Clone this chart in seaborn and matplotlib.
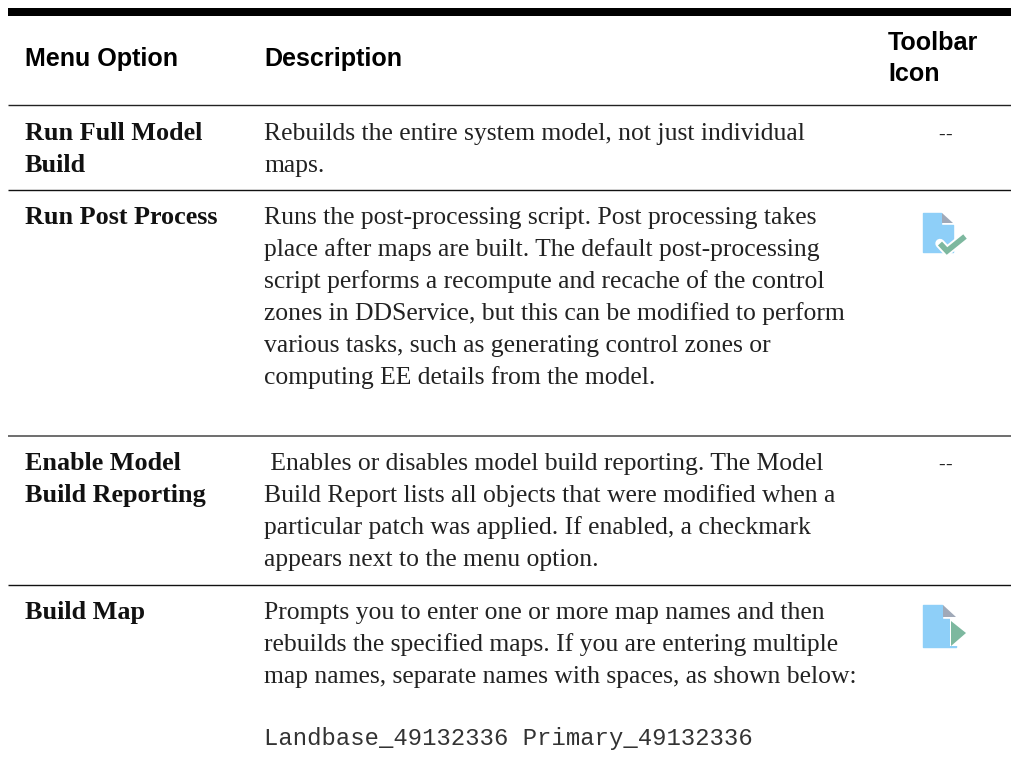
import matplotlib
matplotlib.use("Agg")
import matplotlib.pyplot as plt
from matplotlib.patches import Polygon
import seaborn as sns

sns.set_theme(style="white")

headers = ["Menu Option", "Description"]
toolbar_header = ["Toolbar", "Icon"]
options = [["Run Full Model", "Build"], ["Run Post Process"], ["Enable Model", "Build Reporting"], ["Build Map"]]
descriptions = [
    ["Rebuilds the entire system model, not just individual", "maps."],
    ["Runs the post-processing script. Post processing takes",
     "place after maps are built. The default post-processing",
     "script performs a recompute and recache of the control",
     "zones in DDService, but this can be modified to perform",
     "various tasks, such as generating control zones or",
     "computing EE details from the model."],
    [" Enables or disables model build reporting. The Model",
     "Build Report lists all objects that were modified when a",
     "particular patch was applied. If enabled, a checkmark",
     "appears next to the menu option."],
    ["Prompts you to enter one or more map names and then",
     "rebuilds the specified maps. If you are entering multiple",
     "map names, separate names with spaces, as shown below:"],
]
row_baselines = [140, 224, 470, 619]
rules = [105, 190, 436, 585]
rule_styles = [("#222222", 1.0), ("#111111", 1.0), ("#555555", 1.2), ("#111111", 1.0)]
icons = ["--", "check", "--", "play"]
code_line = "Landbase_49132336 Primary_49132336"

W, H = 1011, 760
fig = plt.figure(figsize=(W / 100, H / 100), dpi=100, facecolor="white")
ax = fig.add_axes([0, 0, 1, 1])
ax.set_xlim(0, W)
ax.set_ylim(H, 0)
ax.axis("off")

LH = 32
SANS = "Liberation Sans"
SERIF = "Liberation Serif"
MONO = "Liberation Mono"
BODY = 18.45
BOLD = 18.8
HEAD = 18.1

ax.fill_between([8, W], 8, 16, color="black", lw=0)
for y, (c, w) in zip(rules, rule_styles):
    ax.plot([8, W], [y, y], color=c, lw=w, solid_capstyle="butt")

ax.text(25, 66, headers[0], family=SANS, weight="bold", fontsize=HEAD, color="black", va="baseline")
ax.text(264, 66, headers[1], family=SANS, weight="bold", fontsize=HEAD, color="black", va="baseline")
ax.text(888, 50, toolbar_header[0], family=SANS, weight="bold", fontsize=HEAD, color="black", va="baseline")
ax.text(888, 81, toolbar_header[1], family=SANS, weight="bold", fontsize=HEAD, color="black", va="baseline")


def doc_icon(ax, x, y, w, h, fold):
    ax.add_patch(Polygon([(x, y), (x + w - fold - 1, y), (x + w - fold - 1, y + fold + 1),
                          (x + w, y + fold + 1), (x + w, y + h), (x, y + h)],
                         closed=True, fc="#8ECFF8", ec="#8ECFF8", lw=1, joinstyle="round"))
    ax.add_patch(Polygon([(x + w - fold, y), (x + w, y + fold - 1), (x + w - fold, y + fold - 1)],
                         closed=True, fc="#A0A9B8", ec="none"))


for base, opt, desc, icon in zip(row_baselines, options, descriptions, icons):
    for i, line in enumerate(opt):
        ax.text(25, base + i * LH, line, family=SERIF, weight="bold", fontsize=BOLD, color="#111111", va="baseline")
    for i, line in enumerate(desc):
        ax.text(264, base + i * LH, line, family=SERIF, fontsize=BODY, color="#222222", va="baseline")
    if icon == "--":
        ax.text(941.5, base, "-", family=SERIF, fontsize=14, color="#222222", va="baseline", ha="center")
        ax.text(949, base, "-", family=SERIF, fontsize=14, color="#222222", va="baseline", ha="center")
    elif icon == "check":
        doc_icon(ax, 923, 213, 30, 39, 11)
        ax.plot([940, 947, 965], [243.5, 251, 236.5], color="white", lw=6.8, solid_capstyle="round", solid_joinstyle="miter")
        ax.plot([940, 947, 965], [243.5, 251, 236.5], color="#7DB89F", lw=4.0, solid_capstyle="butt", solid_joinstyle="miter")
    else:
        doc_icon(ax, 923, 605, 33, 42, 13)
        ax.fill_between([950, 958], 618, 645.5, color="white", lw=0)
        ax.add_patch(Polygon([(951, 621), (966, 633), (951, 646)], closed=True, fc="#7DB89F", ec="none"))

ax.text(264, 745, code_line, family=MONO, fontsize=17.2, color="#333333", va="baseline")

fig.savefig("out.png", dpi=100, facecolor="white")
